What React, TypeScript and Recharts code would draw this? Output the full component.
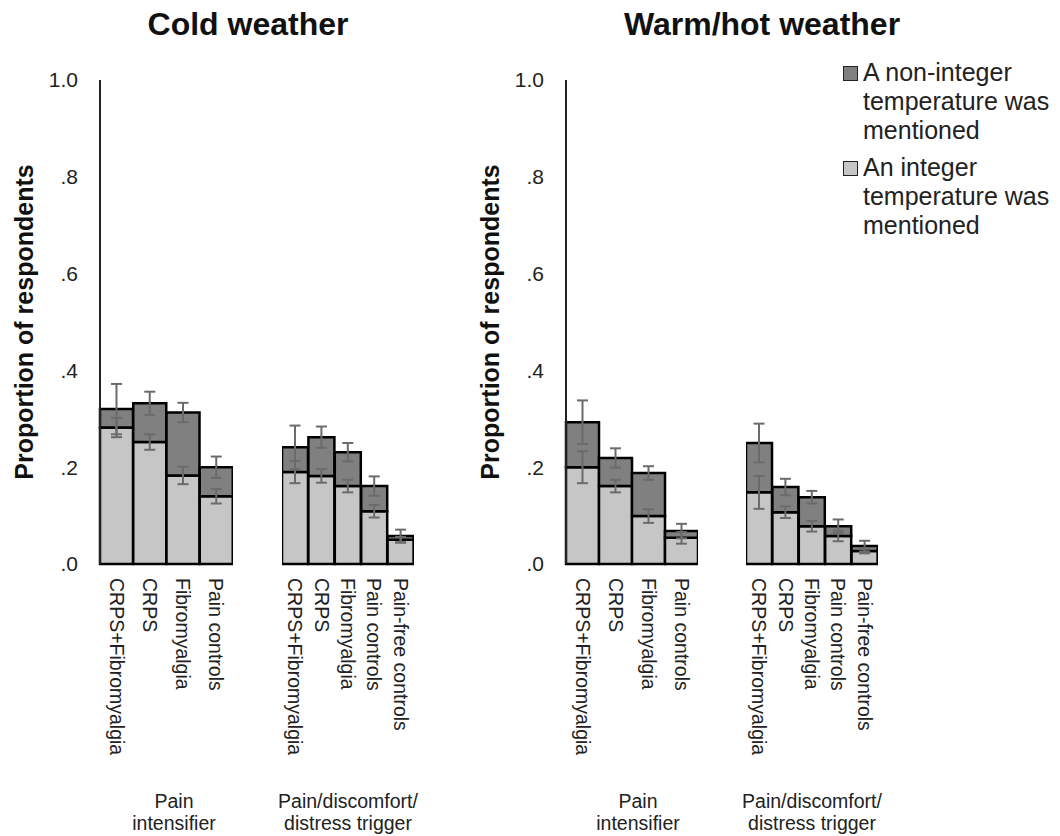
import { BarChart, Bar, XAxis, YAxis, ErrorBar } from 'recharts'

const intensifierGroups = ['CRPS+Fibromyalgia', 'CRPS', 'Fibromyalgia', 'Pain controls']
const triggerGroups = ['CRPS+Fibromyalgia', 'CRPS', 'Fibromyalgia', 'Pain controls', 'Pain-free controls']
const yTicks = [0, 0.2, 0.4, 0.6, 0.8, 1]

// cold weather, pain intensifier
const coldIntensifierTotal = [0.32, 0.332, 0.313, 0.2]
const coldIntensifierInteger = [0.282, 0.252, 0.183, 0.14]
const coldIntensifierTotalErr = [0.052, 0.024, 0.02, 0.022]
const coldIntensifierIntegerErr = [0.02, 0.016, 0.018, 0.015]

// cold weather, trigger
const coldTriggerTotal = [0.241, 0.262, 0.231, 0.161, 0.058]
const coldTriggerInteger = [0.19, 0.182, 0.161, 0.109, 0.05]
const coldTriggerTotalErr = [0.045, 0.022, 0.019, 0.02, 0.013]
const coldTriggerIntegerErr = [0.023, 0.014, 0.013, 0.013, 0.006]

// warm/hot weather, pain intensifier
const warmIntensifierTotal = [0.293, 0.219, 0.188, 0.068]
const warmIntensifierInteger = [0.2, 0.161, 0.099, 0.054]
const warmIntensifierTotalErr = [0.045, 0.02, 0.014, 0.015]
const warmIntensifierIntegerErr = [0.033, 0.013, 0.014, 0.012]

// warm/hot weather, trigger
const warmTriggerTotal = [0.25, 0.159, 0.138, 0.078, 0.037]
const warmTriggerInteger = [0.148, 0.107, 0.078, 0.058, 0.027]
const warmTriggerTotalErr = [0.04, 0.017, 0.013, 0.014, 0.011]
const warmTriggerIntegerErr = [0.034, 0.012, 0.011, 0.011, 0.005]

const FONT = '"Liberation Sans", Arial, sans-serif'
const DARK = '#808080'
const LIGHT = '#c6c6c6'
const ERR = '#6b6b6b'
const H = 836
const PLOT_TOP = 80
const PLOT_BOTTOM = 564
const AXIS_W = 100

interface Row {
  name: string
  integer: number
  nonInteger: number
  integerErr: number
  totalErr: number
}

function buildRows(names: string[], total: number[], integer: number[], totalErr: number[], integerErr: number[]): Row[] {
  return names.map((name, i) => ({
    name,
    integer: integer[i],
    nonInteger: +(total[i] - integer[i]).toFixed(3),
    integerErr: integerErr[i],
    totalErr: totalErr[i],
  }))
}

function RotatedTick({ x, y, payload }: any) {
  const ty = y + 12
  return (
    <text
      x={x}
      y={ty}
      transform={`rotate(90, ${x}, ${ty})`}
      textAnchor="start"
      dominantBaseline="central"
      fontSize={19.5}
      fill="#222"
      fontFamily={FONT}
    >
      {payload.value}
    </text>
  )
}

function YLabel({ viewBox }: any) {
  const cx = viewBox.x + 24
  const cy = viewBox.y + viewBox.height / 2
  return (
    <text
      x={cx}
      y={cy}
      transform={`rotate(-90, ${cx}, ${cy})`}
      textAnchor="middle"
      dominantBaseline="central"
      fontSize={25}
      fontWeight="bold"
      fill="#111"
      fontFamily={FONT}
    >
      Proportion of respondents
    </text>
  )
}

const fmtTick = (v: number) => (v === 1 ? '1.0' : v.toFixed(1).replace(/^0/, ''))

interface GroupChartProps {
  rows: Row[]
  left: number
  width: number
  showAxis: boolean
  errorsOnly?: boolean
}

function GroupChart({ rows, left, width, showAxis, errorsOnly }: GroupChartProps) {
  return (
    <div style={{ position: 'absolute', left, top: 0 }}>
      <BarChart
        width={width}
        height={H}
        data={rows}
        margin={{ top: PLOT_TOP, right: 0, bottom: 0, left: 0 }}
        barCategoryGap={0}
        barGap={0}
      >
        <XAxis
          dataKey="name"
          height={H - PLOT_BOTTOM}
          axisLine={false}
          tickLine={false}
          tickSize={0}
          interval={0}
          tick={errorsOnly ? false : <RotatedTick />}
        />
        {showAxis ? (
          <YAxis
            domain={[0, 1]}
            ticks={yTicks}
            width={AXIS_W}
            tickFormatter={fmtTick}
            tickLine={false}
            tickSize={0}
            tickMargin={22}
            axisLine={errorsOnly ? false : { stroke: '#222', strokeWidth: 2 }}
            tick={errorsOnly ? false : { fill: '#222', fontSize: 21, fontFamily: FONT }}
            label={errorsOnly ? undefined : (p: any) => <YLabel {...p} />}
          />
        ) : (
          <YAxis domain={[0, 1]} hide />
        )}
        <Bar
          dataKey="integer"
          stackId="s"
          fill={errorsOnly ? 'none' : LIGHT}
          stroke={errorsOnly ? 'none' : '#000'}
          strokeWidth={2.5}
          isAnimationActive={false}
        >
          {errorsOnly && <ErrorBar dataKey="integerErr" width={5.5} stroke={ERR} strokeWidth={2} />}
        </Bar>
        <Bar
          dataKey="nonInteger"
          stackId="s"
          fill={errorsOnly ? 'none' : DARK}
          stroke={errorsOnly ? 'none' : '#000'}
          strokeWidth={2.5}
          isAnimationActive={false}
        >
          {errorsOnly && <ErrorBar dataKey="totalErr" width={5.5} stroke={ERR} strokeWidth={2} />}
        </Bar>
      </BarChart>
    </div>
  )
}

function Group(props: GroupChartProps) {
  return (
    <>
      <GroupChart {...props} />
      <GroupChart {...props} errorsOnly />
    </>
  )
}

function Title({ text, center }: { text: string; center: number }) {
  return (
    <div
      style={{
        position: 'absolute',
        left: center - 200,
        width: 400,
        top: 8,
        textAlign: 'center',
        fontSize: 32,
        lineHeight: '32px',
        fontWeight: 'bold',
        color: '#111',
      }}
    >
      {text}
    </div>
  )
}

function GroupLabel({ lines, center }: { lines: string[]; center: number }) {
  return (
    <div
      style={{
        position: 'absolute',
        left: center - 100,
        width: 200,
        top: 790,
        textAlign: 'center',
        fontSize: 19.5,
        lineHeight: '22px',
        color: '#222',
      }}
    >
      {lines.map((l) => (
        <div key={l}>{l}</div>
      ))}
    </div>
  )
}

function LegendItem({ color, lines, top }: { color: string; lines: string[]; top: number }) {
  return (
    <div style={{ position: 'absolute', left: 843, top }}>
      <div
        style={{
          position: 'absolute',
          left: 0,
          top: 8,
          width: 13,
          height: 13,
          background: color,
          border: '1px solid #222',
        }}
      />
      <div style={{ position: 'absolute', left: 20, top: 0, fontSize: 25, lineHeight: '29px', color: '#222', whiteSpace: 'nowrap' }}>
        {lines.map((l) => (
          <div key={l}>{l}</div>
        ))}
      </div>
    </div>
  )
}

export default function App() {
  const coldA = buildRows(intensifierGroups, coldIntensifierTotal, coldIntensifierInteger, coldIntensifierTotalErr, coldIntensifierIntegerErr)
  const coldB = buildRows(triggerGroups, coldTriggerTotal, coldTriggerInteger, coldTriggerTotalErr, coldTriggerIntegerErr)
  const warmA = buildRows(intensifierGroups, warmIntensifierTotal, warmIntensifierInteger, warmIntensifierTotalErr, warmIntensifierIntegerErr)
  const warmB = buildRows(triggerGroups, warmTriggerTotal, warmTriggerInteger, warmTriggerTotalErr, warmTriggerIntegerErr)

  return (
    <div
      style={{
        position: 'absolute',
        left: 0,
        top: 0,
        width: 1060,
        height: 836,
        background: '#fff',
        fontFamily: FONT,
        overflow: 'hidden',
      }}
    >
      <Title text="Cold weather" center={248} />
      <Title text="Warm/hot weather" center={762} />

      <Group rows={coldA} left={0} width={AXIS_W + 133} showAxis />
      <Group rows={coldB} left={282} width={132} showAxis={false} />
      <Group rows={warmA} left={466} width={AXIS_W + 132} showAxis />
      <Group rows={warmB} left={746} width={132} showAxis={false} />

      <GroupLabel lines={['Pain', 'intensifier']} center={174} />
      <GroupLabel lines={['Pain/discomfort/', 'distress trigger']} center={348} />
      <GroupLabel lines={['Pain', 'intensifier']} center={638} />
      <GroupLabel lines={['Pain/discomfort/', 'distress trigger']} center={812} />

      <LegendItem color={DARK} lines={['A non-integer', 'temperature was', 'mentioned']} top={58} />
      <LegendItem color={LIGHT} lines={['An integer', 'temperature was', 'mentioned']} top={153} />
    </div>
  )
}
